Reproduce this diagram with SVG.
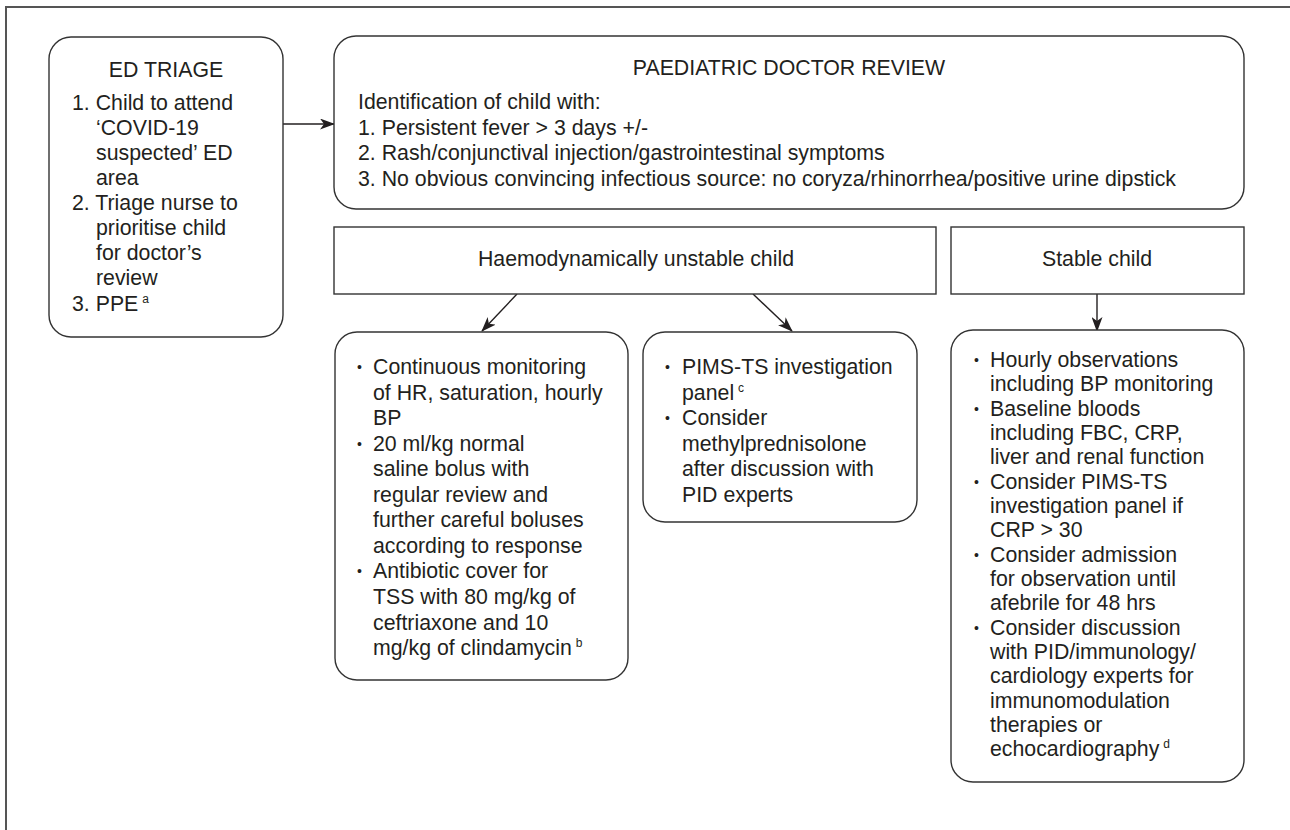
<svg xmlns="http://www.w3.org/2000/svg" width="1290" height="830" viewBox="0 0 1290 830">
<defs>
<style>
.box{fill:#fff;stroke:#333;stroke-width:1.4}
.frame{fill:none;stroke:#555;stroke-width:2}
.t{font-family:"Liberation Sans",Arial,sans-serif;font-size:21.3px;fill:#231f20}
.c{text-anchor:middle}
.b{font-family:"Liberation Sans",Arial,sans-serif;font-size:14px;fill:#231f20}
.sup{font-size:12px}
.con{stroke:#231f20;stroke-width:1.4;fill:none;marker-end:url(#ah)}
</style>
<marker id="ah" markerWidth="15" markerHeight="11" refX="14" refY="5.5" orient="auto" markerUnits="userSpaceOnUse">
<path d="M0,0 L15,5.5 L0,11 L4,5.5 Z" fill="#231f20"/>
</marker>
</defs>
<rect width="1290" height="830" fill="#fff"/>
<path class="frame" d="M6,830 V7 H1290"/>

<g id="connectors">
<line class="con" x1="283" y1="124" x2="334" y2="124"/>
<line class="con" x1="517" y1="294" x2="482" y2="331"/>
<line class="con" x1="753" y1="294" x2="792" y2="331"/>
<line class="con" x1="1097" y1="294" x2="1097" y2="331"/>
</g>

<g id="ed-triage">
<rect class="box" x="49" y="37" width="234" height="300" rx="22"/>
<text class="t c" x="166" y="77">ED TRIAGE</text>
<text class="t" x="72" y="110">1. Child to attend</text>
<text class="t" x="96" y="135">‘COVID-19</text>
<text class="t" x="96" y="160">suspected’ ED</text>
<text class="t" x="96" y="185">area</text>
<text class="t" x="72" y="210">2. Triage nurse to</text>
<text class="t" x="96" y="235">prioritise child</text>
<text class="t" x="96" y="260">for doctor’s</text>
<text class="t" x="96" y="285">review</text>
<text class="t" x="72" y="311">3. PPE<tspan class="sup" dx="4" dy="-8">a</tspan></text>
</g>

<g id="paediatric-review">
<rect class="box" x="334" y="36" width="910" height="173" rx="22"/>
<text class="t c" x="789" y="75">PAEDIATRIC DOCTOR REVIEW</text>
<text class="t" x="358" y="109">Identification of child with:</text>
<text class="t" x="358" y="135">1. Persistent fever &gt; 3 days +/-</text>
<text class="t" x="358" y="160">2. Rash/conjunctival injection/gastrointestinal symptoms</text>
<text class="t" x="358" y="186">3. No obvious convincing infectious source: no coryza/rhinorrhea/positive urine dipstick</text>
</g>

<g id="unstable">
<rect class="box" x="334" y="227" width="602" height="67"/>
<text class="t c" x="636" y="266">Haemodynamically unstable child</text>
</g>

<g id="stable">
<rect class="box" x="951" y="227" width="293" height="67"/>
<text class="t c" x="1097" y="266">Stable child</text>
</g>

<g id="unstable-management">
<rect class="box" x="335" y="332" width="293" height="348" rx="22"/>
<text class="b" x="357" y="372">•</text>
<text class="t" x="373" y="374">Continuous monitoring</text>
<text class="t" x="373" y="400">of HR, saturation, hourly</text>
<text class="t" x="373" y="425">BP</text>
<text class="b" x="357" y="449">•</text>
<text class="t" x="373" y="451">20 ml/kg normal</text>
<text class="t" x="373" y="476">saline bolus with</text>
<text class="t" x="373" y="502">regular review and</text>
<text class="t" x="373" y="527">further careful boluses</text>
<text class="t" x="373" y="553">according to response</text>
<text class="b" x="357" y="576">•</text>
<text class="t" x="373" y="578">Antibiotic cover for</text>
<text class="t" x="373" y="604">TSS with 80 mg/kg of</text>
<text class="t" x="373" y="630">ceftriaxone and 10</text>
<text class="t" x="373" y="655">mg/kg of clindamycin<tspan class="sup" dx="4" dy="-8">b</tspan></text>
</g>

<g id="pims-panel">
<rect class="box" x="643" y="332" width="274" height="190" rx="22"/>
<text class="b" x="665" y="372">•</text>
<text class="t" x="682" y="374">PIMS-TS investigation</text>
<text class="t" x="682" y="400">panel<tspan class="sup" dx="4" dy="-8">c</tspan></text>
<text class="b" x="665" y="423">•</text>
<text class="t" x="682" y="425">Consider</text>
<text class="t" x="682" y="451">methylprednisolone</text>
<text class="t" x="682" y="476">after discussion with</text>
<text class="t" x="682" y="502">PID experts</text>
</g>

<g id="stable-management">
<rect class="box" x="951" y="330" width="293" height="452" rx="22"/>
<text class="b" x="974" y="365">•</text>
<text class="t" x="990" y="367">Hourly observations</text>
<text class="t" x="990" y="391">including BP monitoring</text>
<text class="b" x="974" y="414">•</text>
<text class="t" x="990" y="416">Baseline bloods</text>
<text class="t" x="990" y="440">including FBC, CRP,</text>
<text class="t" x="990" y="464">liver and renal function</text>
<text class="b" x="974" y="487">•</text>
<text class="t" x="990" y="489">Consider PIMS-TS</text>
<text class="t" x="990" y="513">investigation panel if</text>
<text class="t" x="990" y="537">CRP &gt; 30</text>
<text class="b" x="974" y="560">•</text>
<text class="t" x="990" y="562">Consider admission</text>
<text class="t" x="990" y="586">for observation until</text>
<text class="t" x="990" y="610">afebrile for 48 hrs</text>
<text class="b" x="974" y="633">•</text>
<text class="t" x="990" y="635">Consider discussion</text>
<text class="t" x="990" y="659">with PID/immunology/</text>
<text class="t" x="990" y="683">cardiology experts for</text>
<text class="t" x="990" y="708">immunomodulation</text>
<text class="t" x="990" y="732">therapies or</text>
<text class="t" x="990" y="756">echocardiography<tspan class="sup" dx="4" dy="-8">d</tspan></text>
</g>
</svg>
